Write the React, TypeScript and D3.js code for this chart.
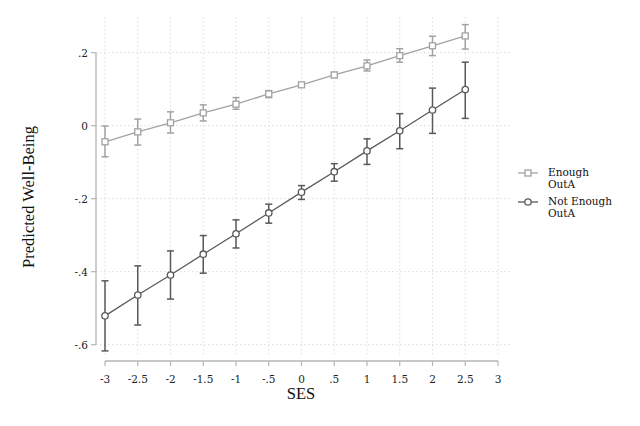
import React from "react";
import * as d3 from "d3";

// SES values on the x axis
const ses = [-3, -2.5, -2, -1.5, -1, -0.5, 0, 0.5, 1, 1.5, 2, 2.5];

// Enough OutA: predicted value with CI
const enoughMean = [-0.044, -0.017, 0.008, 0.035, 0.059, 0.087, 0.112, 0.139, 0.164, 0.192, 0.219, 0.246];
const enoughLo = [-0.085, -0.053, -0.02, 0.013, 0.045, 0.077, 0.106, 0.132, 0.15, 0.174, 0.192, 0.21];
const enoughHi = [-0.001, 0.018, 0.038, 0.057, 0.077, 0.096, 0.118, 0.146, 0.18, 0.211, 0.245, 0.277];

// Not Enough OutA
const notMean = [-0.521, -0.464, -0.409, -0.352, -0.296, -0.239, -0.182, -0.126, -0.069, -0.014, 0.043, 0.099];
const notLo = [-0.617, -0.546, -0.475, -0.404, -0.335, -0.267, -0.202, -0.152, -0.106, -0.063, -0.021, 0.02];
const notHi = [-0.425, -0.384, -0.343, -0.301, -0.258, -0.215, -0.164, -0.104, -0.036, 0.033, 0.103, 0.174];

const xTicks = [-3, -2.5, -2, -1.5, -1, -0.5, 0, 0.5, 1, 1.5, 2, 2.5, 3];
const yTicks = [0.2, 0, -0.2, -0.4, -0.6];

const fmt = (v: number) => {
  if (v === 0) return "0";
  let s = String(+v.toFixed(2));
  return s.replace(/^(-?)0\./, "$1.");
};

const FONT = "'Liberation Serif', 'DejaVu Serif', serif";
const TICKFONT = "'DejaVu Serif', serif";

export default function App() {
  const W = 640;
  const H = 426;
  const x = d3.scaleLinear().domain([-3, 3]).range([105, 498]);
  const y = d3.scaleLinear().domain([-0.6, 0.2]).range([344.7, 52.7]);

  const plotTop = 17;
  const plotBottom = 357;
  const plotLeft = 96;
  const plotRight = 510;
  const xAxisY = 361;

  const series = [
    { name: ["Enough", "OutA"], mean: enoughMean, lo: enoughLo, hi: enoughHi, color: "#a2a2a2", shape: "square" },
    { name: ["Not Enough", "OutA"], mean: notMean, lo: notLo, hi: notHi, color: "#595959", shape: "circle" },
  ];

  const line = d3
    .line<number>()
    .x((_, i) => x(ses[i]))
    .y((d) => y(d));

  const marker = (shape: string, cx: number, cy: number, color: string, key: string) =>
    shape === "square" ? (
      <rect key={key} x={cx - 3} y={cy - 3} width={6} height={6} fill="white" stroke={color} strokeWidth={1.3} />
    ) : (
      <circle key={key} cx={cx} cy={cy} r={3.2} fill="white" stroke={color} strokeWidth={1.3} />
    );

  return (
    <svg width={W} height={H} style={{ position: "absolute", left: 0, top: 0, background: "white" }}>
      {/* grid */}
      {yTicks.map((t) => (
        <line key={"gy" + t} x1={plotLeft} x2={plotRight} y1={y(t)} y2={y(t)} stroke="#dcdcdc" strokeWidth={1} strokeDasharray="1.5,2.5" />
      ))}
      {xTicks.map((t) => (
        <line key={"gx" + t} x1={x(t)} x2={x(t)} y1={plotTop} y2={plotBottom} stroke="#dcdcdc" strokeWidth={1} strokeDasharray="1.5,2.5" />
      ))}

      {/* y axis */}
      <line x1={plotLeft} x2={plotLeft} y1={y(0.2)} y2={y(-0.6)} stroke="#b4b4b4" strokeWidth={1.3} />
      {yTicks.map((t) => (
        <g key={"ty" + t}>
          <line x1={plotLeft - 5} x2={plotLeft} y1={y(t)} y2={y(t)} stroke="#b4b4b4" strokeWidth={1.2} />
          <text x={plotLeft - 8} y={y(t) + 4} textAnchor="end" fontFamily={TICKFONT} fontSize={10.5} fill="#222">
            {fmt(t)}
          </text>
        </g>
      ))}

      {/* x axis */}
      <line x1={x(-3)} x2={x(3)} y1={xAxisY} y2={xAxisY} stroke="#b4b4b4" strokeWidth={1.3} />
      {xTicks.map((t) => (
        <g key={"tx" + t}>
          <line x1={x(t)} x2={x(t)} y1={xAxisY} y2={xAxisY + 5} stroke="#b4b4b4" strokeWidth={1.2} />
          <text x={x(t)} y={xAxisY + 22} textAnchor="middle" fontFamily={TICKFONT} fontSize={10.5} fill="#222">
            {fmt(t)}
          </text>
        </g>
      ))}

      {/* axis titles */}
      <text x={301} y={399} textAnchor="middle" fontFamily={FONT} fontSize={16.5} fill="#111">
        SES
      </text>
      <text transform="translate(34,197) rotate(-90)" textAnchor="middle" fontFamily={FONT} fontSize={16.5} fill="#111">
        Predicted Well-Being
      </text>

      {/* series */}
      {series.map((s, si) => (
        <g key={"s" + si}>
          {s.mean.map((_, i) => (
            <g key={"e" + i} stroke={s.color} strokeWidth={1.5}>
              <line x1={x(ses[i])} x2={x(ses[i])} y1={y(s.lo[i])} y2={y(s.hi[i])} />
              <line x1={x(ses[i]) - 3.5} x2={x(ses[i]) + 3.5} y1={y(s.lo[i])} y2={y(s.lo[i])} />
              <line x1={x(ses[i]) - 3.5} x2={x(ses[i]) + 3.5} y1={y(s.hi[i])} y2={y(s.hi[i])} />
            </g>
          ))}
          <path d={line(s.mean) || ""} fill="none" stroke={s.color} strokeWidth={1.3} />
          {s.mean.map((v, i) => marker(s.shape, x(ses[i]), y(v), s.color, "m" + i))}
        </g>
      ))}

      {/* legend */}
      {series.map((s, si) => {
        const ly = si === 0 ? 173 : 202;
        return (
          <g key={"l" + si}>
            <line x1={518} x2={538} y1={ly} y2={ly} stroke={s.color} strokeWidth={1.3} />
            {marker(s.shape, 528, ly, s.color, "lm" + si)}
            <text x={548} y={ly + 3} fontFamily={TICKFONT} fontSize={10.5} fill="#111">
              {s.name[0]}
            </text>
            <text x={548} y={ly + 15} fontFamily={TICKFONT} fontSize={10.5} fill="#111">
              {s.name[1]}
            </text>
          </g>
        );
      })}
    </svg>
  );
}
